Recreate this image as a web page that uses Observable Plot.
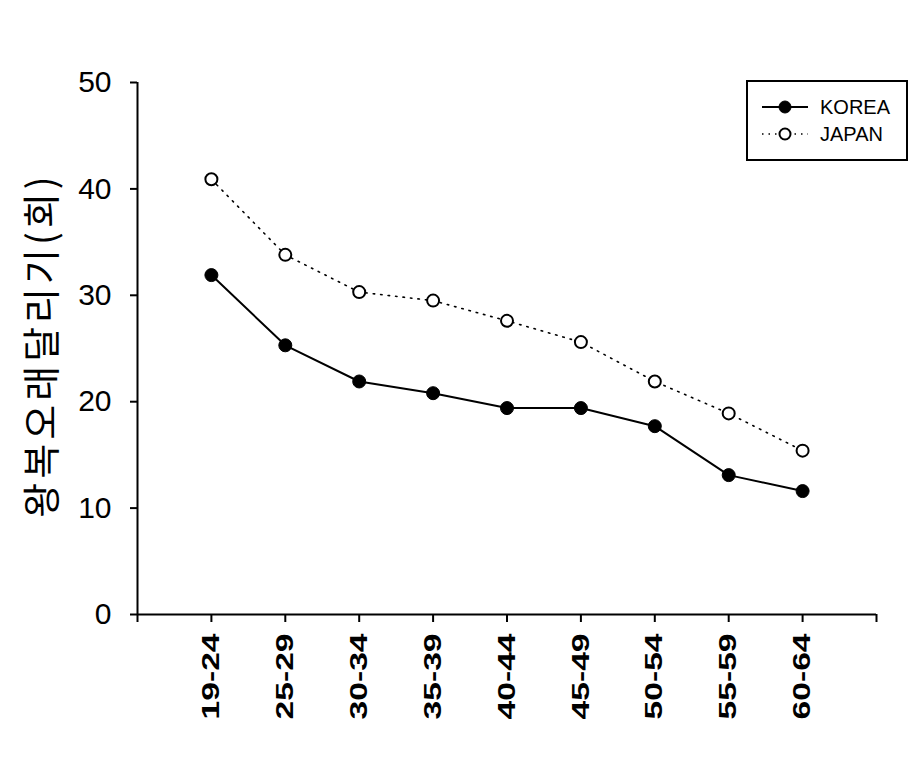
<!DOCTYPE html>
<html>
<head>
<meta charset="utf-8">
<script src="https://cdn.jsdelivr.net/npm/d3@7"></script>
<script src="https://cdn.jsdelivr.net/npm/@observablehq/plot@0.6"></script>
<style>
  body { margin: 0; background: #fff; }
  #wrap { position: relative; width: 920px; height: 781px; }
  #legend { position: absolute; left: 746px; top: 80px; }
</style>
</head>
<body>
<div id="wrap"></div>
<script>
// ---- data ----
const ages = ["19-24", "25-29", "30-34", "35-39", "40-44", "45-49", "50-54", "55-59", "60-64"];
const korea = [31.9, 25.3, 21.9, 20.8, 19.4, 19.4, 17.7, 13.1, 11.6];
const japan = [40.9, 33.8, 30.3, 29.5, 27.6, 25.6, 21.9, 18.9, 15.4];
const seriesNames = ["KOREA", "JAPAN"];
const yTicks = [0, 10, 20, 30, 40, 50];
const yTitle = "왕복오래달리기(회)";

const rows = [];
ages.forEach((a, i) => {
  rows.push({pos: i + 1, age: a, series: "KOREA", value: korea[i]});
  rows.push({pos: i + 1, age: a, series: "JAPAN", value: japan[i]});
});
const kRows = rows.filter(d => d.series === "KOREA");
const jRows = rows.filter(d => d.series === "JAPAN");

const font = "'Liberation Sans', Arial, sans-serif";

const chart = Plot.plot({
  width: 920,
  height: 781,
  marginLeft: 137,
  marginRight: 44,
  marginTop: 82,
  marginBottom: 167,
  style: {background: "#fff", fontFamily: font, color: "#000"},
  x: {type: "linear", domain: [0, ages.length + 1], axis: null},
  y: {domain: [0, 50], axis: null},
  marks: [
    Plot.axisY({ticks: yTicks, tickSize: 7, tickPadding: 19, fontSize: 30, strokeWidth: 2, fontFamily: font, label: null}),
    Plot.axisX({
      ticks: d3.range(0, ages.length + 2),
      tickFormat: d => ages[d - 1] ?? "",
      tickRotate: -90, tickSize: 8, tickPadding: 11,
      fontSize: 24, fontWeight: "bold", strokeWidth: 2, fontFamily: font, label: null
    }),
    Plot.ruleX([0], {stroke: "#000", strokeWidth: 2}),
    Plot.ruleY([0], {stroke: "#000", strokeWidth: 2}),
    Plot.line(jRows, {x: "pos", y: "value", stroke: "#000", strokeWidth: 1.6, strokeDasharray: "1.5,6"}),
    Plot.line(kRows, {x: "pos", y: "value", stroke: "#000", strokeWidth: 2}),
    Plot.dot(jRows, {x: "pos", y: "value", r: 6, fill: "#fff", stroke: "#000", strokeWidth: 2}),
    Plot.dot(kRows, {x: "pos", y: "value", r: 6.5, fill: "#000", stroke: "#000", strokeWidth: 1})
  ]
});

document.getElementById("wrap").appendChild(chart);

// stretch x tick labels along their length (as in the reference)
d3.select(chart).selectAll('g[aria-label="x-axis tick label"] text').each(function() {
  const t = d3.select(this).attr("transform") || "";
  d3.select(this).attr("transform", t + " scale(1.4,1)");
});

// y-axis title
d3.select(chart).append("text")
  .attr("transform", "translate(38,345) rotate(-90)")
  .attr("text-anchor", "middle")
  .attr("dominant-baseline", "central")
  .style("font-family", "'Noto Sans CJK KR', sans-serif")
  .style("font-size", "38px")
  .style("letter-spacing", "4px")
  .attr("fill", "#000")
  .text(yTitle);

// legend
const lg = d3.select("#wrap").append("svg")
  .attr("id", "legend")
  .attr("width", 164).attr("height", 82);
lg.append("rect").attr("x", 1).attr("y", 1).attr("width", 160).attr("height", 79)
  .attr("fill", "#fff").attr("stroke", "#000").attr("stroke-width", 2);
seriesNames.forEach((name, i) => {
  const y = 27 + i * 27;
  const g = lg.append("g");
  g.append("line").attr("x1", 16).attr("x2", 62).attr("y1", y).attr("y2", y)
    .attr("stroke", "#000").attr("stroke-width", i === 0 ? 2 : 1.6)
    .attr("stroke-dasharray", i === 0 ? null : "1.5,5");
  g.append("circle").attr("cx", 39).attr("cy", y).attr("r", i === 0 ? 6 : 5.5)
    .attr("fill", i === 0 ? "#000" : "#fff").attr("stroke", "#000").attr("stroke-width", i === 0 ? 1 : 2);
  g.append("text").attr("x", 74).attr("y", y).attr("dominant-baseline", "central")
    .style("font-family", font).style("font-size", "20px").attr("fill", "#000").text(name);
});
</script>
</body>
</html>
